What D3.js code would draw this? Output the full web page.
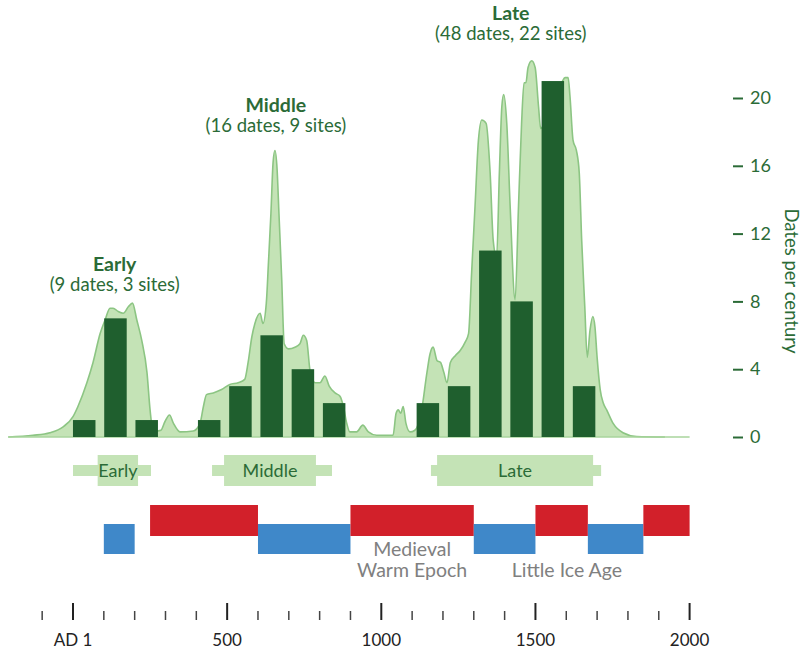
<!DOCTYPE html>
<html><head><meta charset="utf-8">
<script src="https://cdn.jsdelivr.net/npm/d3@7"></script>
<style>
body{margin:0;background:#fff}
svg{display:block}
text{font-family:Lato,"Open Sans",sans-serif}
</style>
</head><body>
<svg id="chart" width="804" height="650"></svg>
<script>
// ---------- data ----------
const centuries = [0,100,200,400,500,600,700,800,1100,1200,1300,1400,1500,1600];
const datesPerCentury = [1,7,1,1,3,6,4,2,2,3,11,8,21,3];
const allCenturies = d3.range(0,1700,100);

const densityYears = [-210,-130,-75,-32,0,16,45,65,88,104,120,130,147,163,180,193,207,223,240,250,258,270,285,298,313,326,347,390,
  412,423,433,455,482,509,536,557,568,580,590,607,616,627,634,642,649,655,662,668,677,685,699,720,736,747,758,769,785,801,817,831,850,866,877,888,898,920,940,958,985,
  1038,1048,1055,1063,1071,1080,1093,1109,1130,1148,1158,1168,1181,1192,1203,1213,1224,1240,1256,1272,1283,1293,1304,1315,1326,1340,1353,1363,1374,1383,1391,1397,1407,1418,1434,1445,1455,1463,1469,1476,1488,1499,1510,1517,1535,1560,1585,1596,1606,1612,1622,1633,1642,1650,1660,1668,1677,1686,1693,1700,1710,1720,1731,1752,1784,1828,1920];
const densityValues = [0,0.1,0.25,0.6,1.2,1.8,3.2,4.4,6.1,6.9,7.6,7.6,7.4,7.3,7.7,7.9,6.9,5.7,3.8,1.6,0.5,0.35,0.4,0.9,1.3,0.8,0.3,0.35,
  0.8,1.8,2.5,2.6,2.8,3.1,3.2,3.4,4.4,5.9,6.7,7.3,6.7,7.9,10.3,13.2,16.2,16.9,15.8,13.2,9.3,5.5,5.2,5.3,5.5,6.0,5.7,3.9,3.2,3.2,3.6,3.0,2.6,2.4,1.8,0.8,0.3,0.3,0.7,0.3,0.1,
  0.1,1.4,1.6,1.4,1.8,0.8,0.3,0.4,1.5,3.8,4.9,5.3,4.5,4.4,3.8,3.2,4.4,4.8,5.1,5.6,6.1,9.7,13.6,17.5,18.7,18.5,15.6,11.6,10.6,15.6,19.5,20.2,18.5,13.6,8.1,13.6,18.5,20.9,20.9,21.8,22.2,21.8,19.5,18.2,18.8,20.2,20.9,21.2,21.2,20.1,17.5,16.9,15.6,11.6,7.7,4.7,6.3,7.1,6.5,4.7,2.8,2.0,1.6,0.8,0.25,0.03,0];

const phaseNames = ["Early","Middle","Late"];
const phaseCounts = ["(9 dates, 3 sites)","(16 dates, 9 sites)","(48 dates, 22 sites)"];
const headerYears = [135,658,1420];
const phaseOuterStart = [0,451,1161];
const phaseOuterEnd = [253,840,1713];
const phaseInnerStart = [80,490,1181];
const phaseInnerEnd = [211,788,1687];

const climateStart = [100,250,600,900,1300,1500,1670,1850];
const climateEnd   = [200,600,900,1300,1500,1670,1850,2000];
const climateKind  = ["cold","warm","cold","warm","cold","warm","cold","warm"];
const climateLabels = [["Medieval","Warm Epoch"],["Little Ice Age"]];
const climateLabelYears = [1100,1602];

const yTicks = [0,4,8,12,16,20];
const xMajorTicks = [0,500,1000,1500,2000];
const xMajorLabels = ["AD 1","500","1000","1500","2000"];
const xMinorTicks = d3.range(-100,2000,100).filter(d => d % 500 !== 0);

// ---------- styles ----------
const DARK = "#1f5f2e", FILL = "#c4e3b6", EDGE = "#8cc583", TXT = "#2b6b37";
const RED = "#d2202a", BLUE = "#3f88c9";

const svg = d3.select("#chart");
const x = d3.scaleLinear().domain([0,2000]).range([73,689.6]);
const y = d3.scaleLinear().domain([0,20]).range([437,98]);
const xb = d3.scaleBand().domain(allCenturies).range([68.6,599.7]).paddingInner(0.28).paddingOuter(0.14);

// density area
const dens = densityYears.map((d,i)=>({yr:d, v:densityValues[i]}));
svg.append("path").datum(dens)
  .attr("d", d3.area().x(d=>x(d.yr)).y0(y(0)).y1(d=>y(d.v)).curve(d3.curveMonotoneX))
  .attr("fill", FILL);
svg.append("path").datum(dens)
  .attr("d", d3.line().x(d=>x(d.yr)).y(d=>y(d.v)).curve(d3.curveMonotoneX))
  .attr("fill","none").attr("stroke",EDGE).attr("stroke-width",1.6);
svg.append("line").attr("x1",x(-210)).attr("x2",x(2000)).attr("y1",y(0)).attr("y2",y(0))
  .attr("stroke","#a8d49d").attr("stroke-width",1.5);

// bars
svg.selectAll("rect.bar").data(centuries).enter().append("rect")
  .attr("class","bar")
  .attr("x", d=>xb(d)).attr("width", xb.bandwidth())
  .attr("y", (d,i)=>y(datesPerCentury[i])).attr("height",(d,i)=>y(0)-y(datesPerCentury[i]))
  .attr("fill", DARK);

// headers (one text element each, two lines)
const headerBaseY = [271,112,20];
phaseNames.forEach((n,i)=>{
  const t = svg.append("text").attr("text-anchor","middle").attr("fill",TXT);
  t.append("tspan").attr("x",x(headerYears[i])).attr("y",headerBaseY[i])
    .attr("font-weight","bold").attr("font-size",19.5).text(n);
  t.append("tspan").attr("x",x(headerYears[i])).attr("y",headerBaseY[i]+20)
    .attr("font-size",18.5).text(phaseCounts[i]);
});

// right axis
const ya = svg.append("g").attr("transform","translate(733,0)")
  .call(d3.axisRight(y).tickValues(yTicks).tickSize(10).tickPadding(7));
ya.select(".domain").remove();
ya.selectAll(".tick line").attr("stroke",TXT).attr("stroke-width",2);
ya.selectAll(".tick text").attr("fill",TXT).attr("font-size",18).attr("font-family","Lato,'Open Sans',sans-serif");
svg.append("text").attr("transform","translate(785,281) rotate(90)")
  .attr("text-anchor","middle").attr("font-size",18.5).attr("fill",TXT).text("Dates per century");

// phase range bars
phaseNames.forEach((n,i)=>{
  svg.append("rect").attr("x",x(phaseOuterStart[i])).attr("width",x(phaseOuterEnd[i])-x(phaseOuterStart[i]))
    .attr("y",465).attr("height",11).attr("fill",FILL);
  svg.append("rect").attr("x",x(phaseInnerStart[i])).attr("width",x(phaseInnerEnd[i])-x(phaseInnerStart[i]))
    .attr("y",455).attr("height",31).attr("fill",FILL);
  svg.append("text").attr("x",(x(phaseInnerStart[i])+x(phaseInnerEnd[i]))/2).attr("y",477)
    .attr("text-anchor","middle").attr("font-size",18).attr("fill",TXT).text(n);
});

// climate bars
climateStart.forEach((s,i)=>{
  const warm = climateKind[i]==="warm";
  svg.append("rect").attr("x",x(s)).attr("width",x(climateEnd[i])-x(s))
    .attr("y", warm?505:524).attr("height",warm?31:30)
    .attr("fill", warm?RED:BLUE);
});
climateLabels.forEach((lines,i)=>{
  const t = svg.append("text").attr("text-anchor","middle").attr("font-size",19.5).attr("fill","#808080");
  lines.forEach((l,j)=>{
    t.append("tspan").attr("x",x(climateLabelYears[i])).attr("y",577-(lines.length-1-j)*21).text(l);
  });
});

// bottom axis
svg.selectAll("line.maj").data(xMajorTicks).enter().append("line")
  .attr("x1",d=>x(d)).attr("x2",d=>x(d)).attr("y1",603).attr("y2",620).attr("stroke","#222").attr("stroke-width",2);
svg.selectAll("line.min").data(xMinorTicks).enter().append("line")
  .attr("x1",d=>x(d)).attr("x2",d=>x(d)).attr("y1",611).attr("y2",620).attr("stroke","#444").attr("stroke-width",1.5);
svg.selectAll("text.xl").data(xMajorTicks).enter().append("text")
  .attr("x",d=>x(d)).attr("y",646).attr("text-anchor","middle").attr("font-size",17).attr("fill","#222")
  .text((d,i)=>xMajorLabels[i]);
</script>
</body></html>
